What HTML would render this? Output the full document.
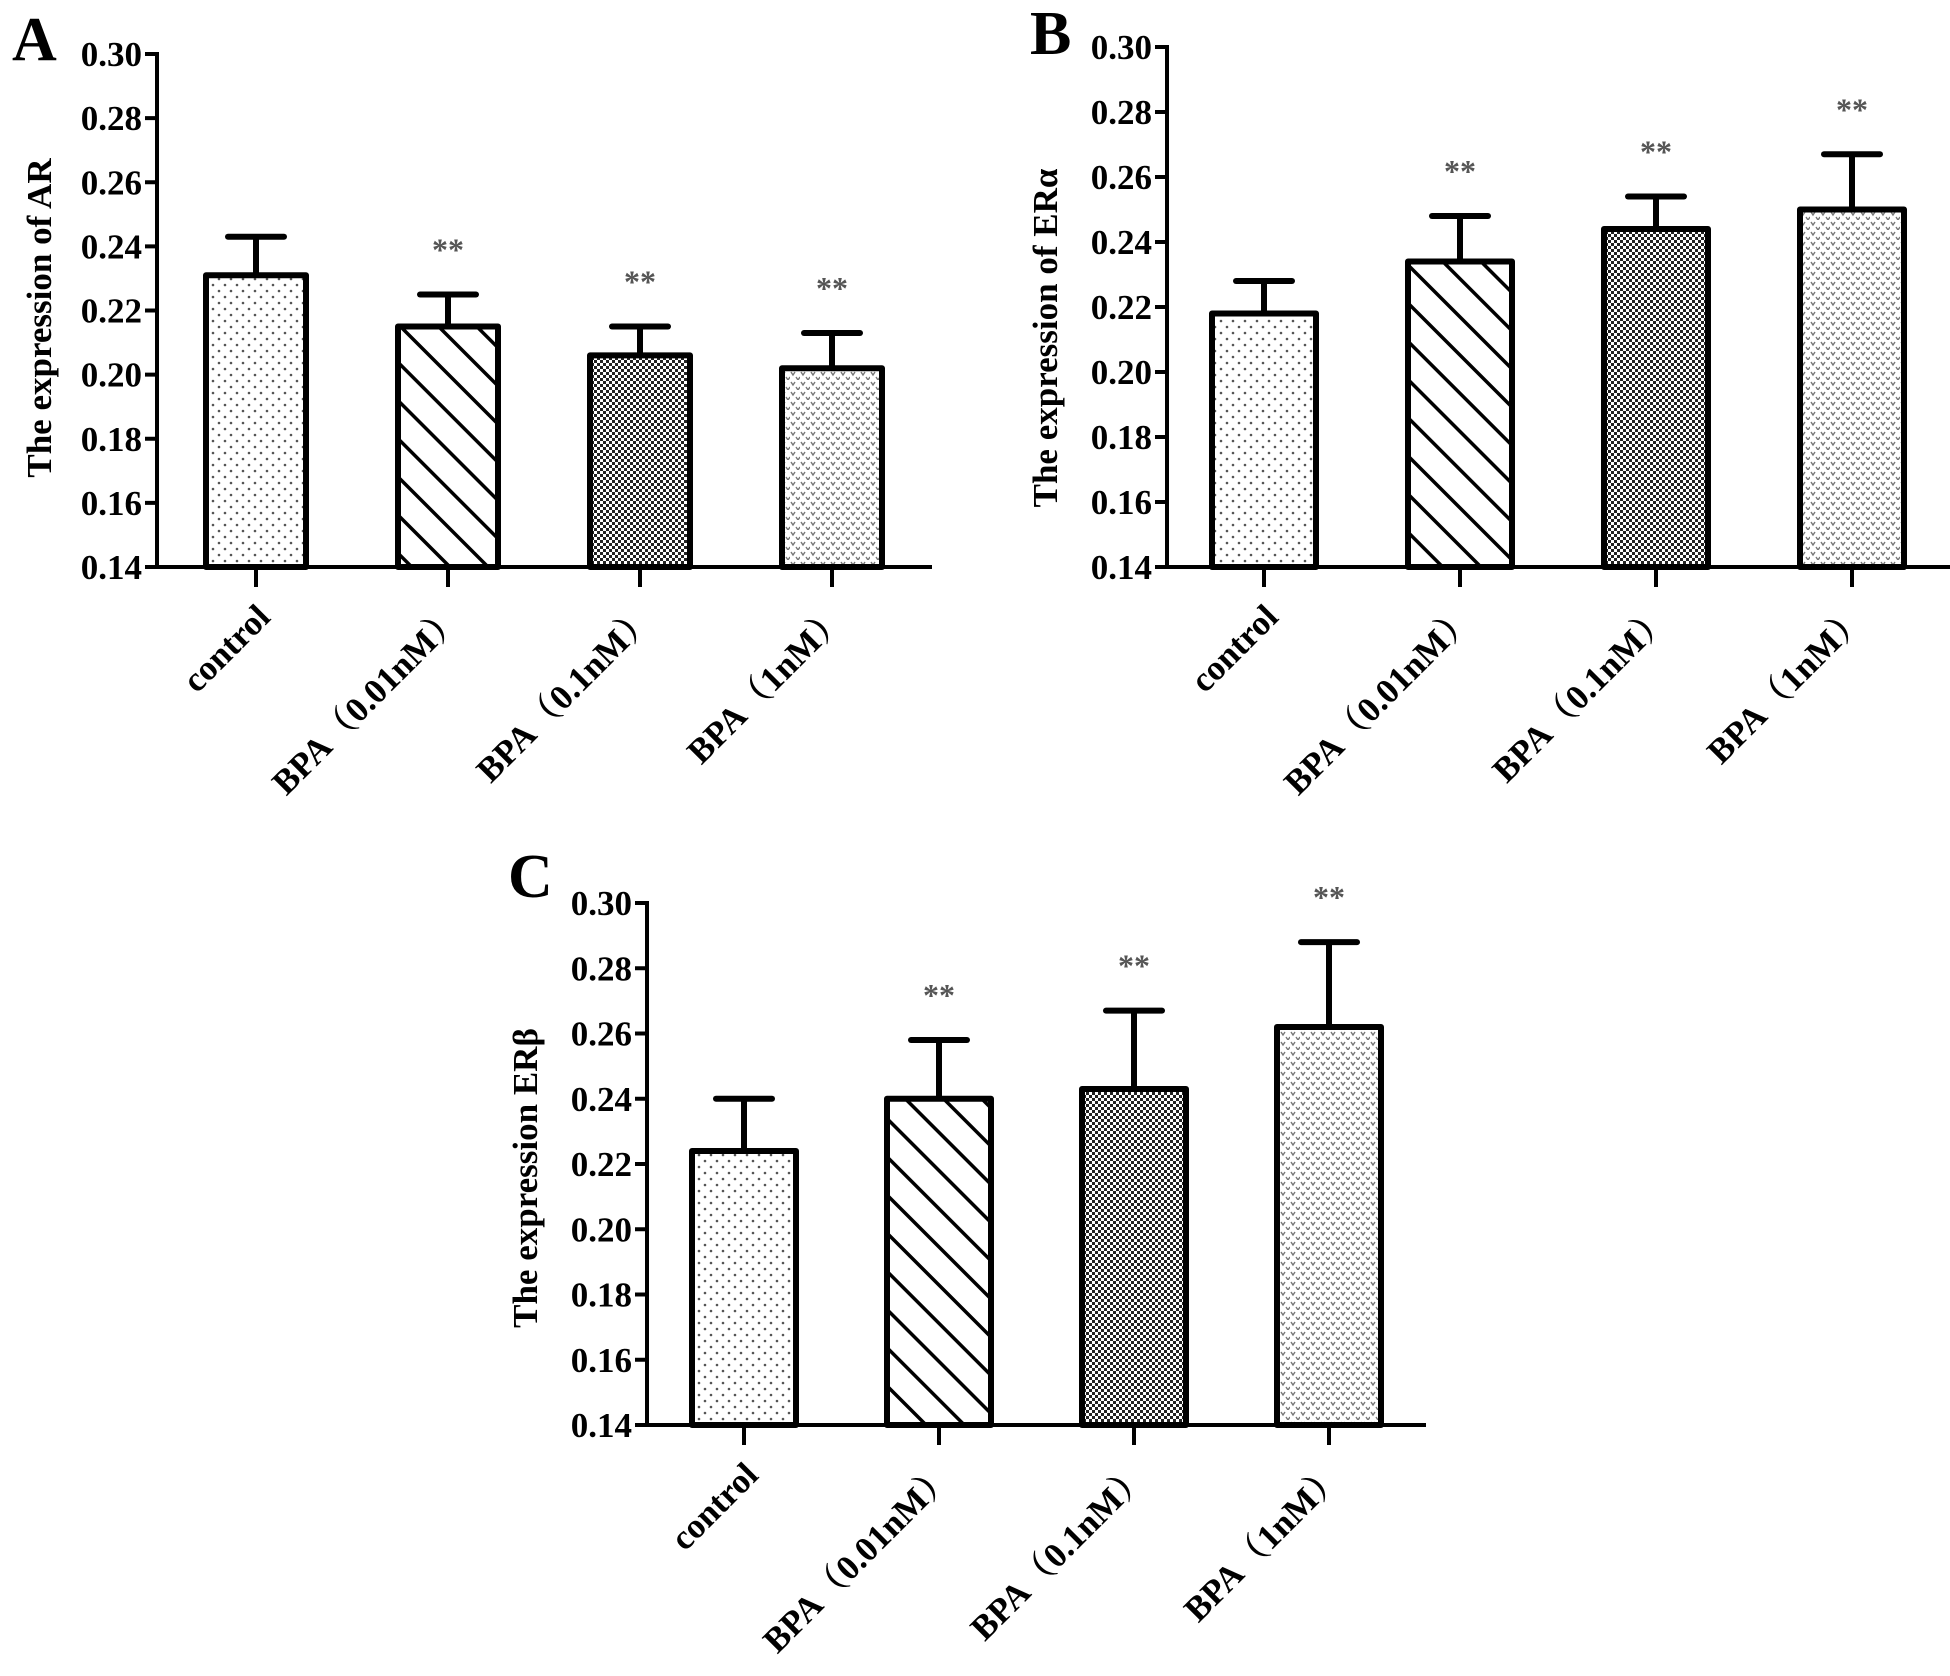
<!DOCTYPE html>
<html><head><meta charset="utf-8"><style>
html,body{margin:0;padding:0;background:#fff;}
svg{display:block;}
text{font-family:"Liberation Serif","Noto Serif CJK SC",serif;font-weight:bold;}
</style></head><body>
<svg id="fig" width="1950" height="1676" viewBox="0 0 1950 1676" xmlns="http://www.w3.org/2000/svg">
<defs>
<pattern id="pDots" width="12" height="12" patternUnits="userSpaceOnUse"><rect width="12" height="12" fill="#fff"/><circle cx="3" cy="3" r="1.3" fill="#555"/><circle cx="9" cy="9" r="1.3" fill="#555"/></pattern>
<pattern id="pHatch" width="27" height="27" patternUnits="userSpaceOnUse" patternTransform="rotate(45)"><rect width="27" height="27" fill="#fff"/><rect x="0" y="0" width="27" height="3.5" fill="#000"/></pattern>
<pattern id="pCheck" width="6" height="6" patternUnits="userSpaceOnUse"><rect width="6" height="6" fill="#fff"/><rect x="0" y="0" width="3" height="3" fill="#222"/><rect x="3" y="3" width="3" height="3" fill="#222"/></pattern>
<pattern id="pV" width="10" height="10" patternUnits="userSpaceOnUse"><rect width="10" height="10" fill="#fff"/><path d="M1 2 L3 5 L5 2 M6 7 L8 10 L10 7" stroke="#777" stroke-width="1.4" fill="none"/></pattern>
</defs>
</svg>
<script>
const categories = ["control", "BPA（0.01nM）", "BPA（0.1nM）", "BPA（1nM）"];
const yTicks = [0.14, 0.16, 0.18, 0.20, 0.22, 0.24, 0.26, 0.28, 0.30];
const tickLabels = ["0.14", "0.16", "0.18", "0.20", "0.22", "0.24", "0.26", "0.28", "0.30"];
const valuesA = [0.231, 0.215, 0.206, 0.202];
const errA = [0.012, 0.010, 0.009, 0.011];
const sigA = ["", "**", "**", "**"];
const valuesB = [0.218, 0.234, 0.244, 0.250];
const errB = [0.010, 0.014, 0.010, 0.017];
const sigB = ["", "**", "**", "**"];
const valuesC = [0.224, 0.240, 0.243, 0.262];
const errC = [0.016, 0.018, 0.024, 0.026];
const sigC = ["", "**", "**", "**"];

const NS = "http://www.w3.org/2000/svg";
const svg = document.getElementById("fig");
const fills = ["url(#pDots)", "url(#pHatch)", "url(#pCheck)", "url(#pV)"];
function mk(tag, attrs, parent, txt){
  const e = document.createElementNS(NS, tag);
  for (const k in attrs) e.setAttribute(k, attrs[k]);
  if (txt !== undefined) e.textContent = txt;
  parent.appendChild(e);
  return e;
}
function panel(cfg, values, errs, sigs){
  const g = mk("g", {}, svg);
  
  
  const y = v => cfg.y0 + (v - 0.14) / (0.30 - 0.14) * (cfg.y1 - cfg.y0);
  const xc = i => cfg.c0 + i * cfg.step;
  const L = mk("text", {x: cfg.lx, y: cfg.ly, "font-size": 62}, g, cfg.letter);
  
  
  const yl = mk("text", {x: 0, y: 0, "font-size": 35, "text-anchor": "middle", transform: `translate(${cfg.ylx},${cfg.yly}) rotate(-90)`}, g, cfg.ylabel);
  
  
  values.forEach((v, i) => {
    const cx = xc(i), top = y(v), bw = cfg.bw;
    const eTop = y(v + errs[i]);
    const st = mk("line", {x1: cx, x2: cx, y1: top, y2: eTop, stroke: "#000", "stroke-width": 6}, g);
    
    
    const cap = mk("line", {x1: cx - 28, x2: cx + 28, y1: eTop, y2: eTop, stroke: "#000", "stroke-width": 6, "stroke-linecap": "round"}, g);
    
    
    const r = mk("rect", {x: cx - bw / 2, y: top, width: bw, height: cfg.y0 - top, fill: fills[i], stroke: "#000", "stroke-width": 6, "stroke-linejoin": "round"}, g);
    
    
    if (sigs[i]) {
      const s = mk("text", {x: cx, y: eTop - 34, "font-size": 32, fill: "#555", "text-anchor": "middle"}, g, sigs[i]);
      
      
    }
    const tk = mk("line", {x1: cx, x2: cx, y1: cfg.y0, y2: cfg.y0 + 20, stroke: "#000", "stroke-width": 4}, g);
    
    
    const lb = mk("text", {x: 0, y: 0, "font-size": 35, "text-anchor": "end", transform: `translate(${cx + 16},${cfg.y0 + 52}) rotate(-45)`}, g, categories[i]);
    
    
  });
  const ya = mk("line", {x1: cfg.ax, x2: cfg.ax, y1: cfg.y1 - 2, y2: cfg.y0 + 2, stroke: "#000", "stroke-width": 4}, g);
  
  
  const xa = mk("line", {x1: cfg.ax - 2, x2: cfg.xend, y1: cfg.y0, y2: cfg.y0, stroke: "#000", "stroke-width": 4}, g);
  
  
  yTicks.forEach((t, j) => {
    const ty = y(t);
    const tl = mk("line", {x1: cfg.ax - 12, x2: cfg.ax, y1: ty, y2: ty, stroke: "#000", "stroke-width": 4}, g);
    
    
    const tt = mk("text", {x: cfg.ax - 15, y: ty + 12, "font-size": 35, "text-anchor": "end"}, g, tickLabels[j]);
    
    
  });
}
panel({id: "a", letter: "A", lx: 12, ly: 60, ylabel: "The expression of AR", ylx: 51, yly: 318,
  ax: 157, y0: 567, y1: 54, c0: 256, step: 192, bw: 100, xend: 932}, valuesA, errA, sigA);
panel({id: "b", letter: "B", lx: 1030, ly: 54, ylabel: "The expression of ERα", ylx: 1057, yly: 338,
  ax: 1167, y0: 567, y1: 47, c0: 1264, step: 196, bw: 104, xend: 1950}, valuesB, errB, sigB);
panel({id: "c", letter: "C", lx: 508, ly: 897, ylabel: "The expression ERβ", ylx: 537, yly: 1178,
  ax: 647, y0: 1425, y1: 903, c0: 744, step: 195, bw: 104, xend: 1426}, valuesC, errC, sigC);
</script>
</body></html>
